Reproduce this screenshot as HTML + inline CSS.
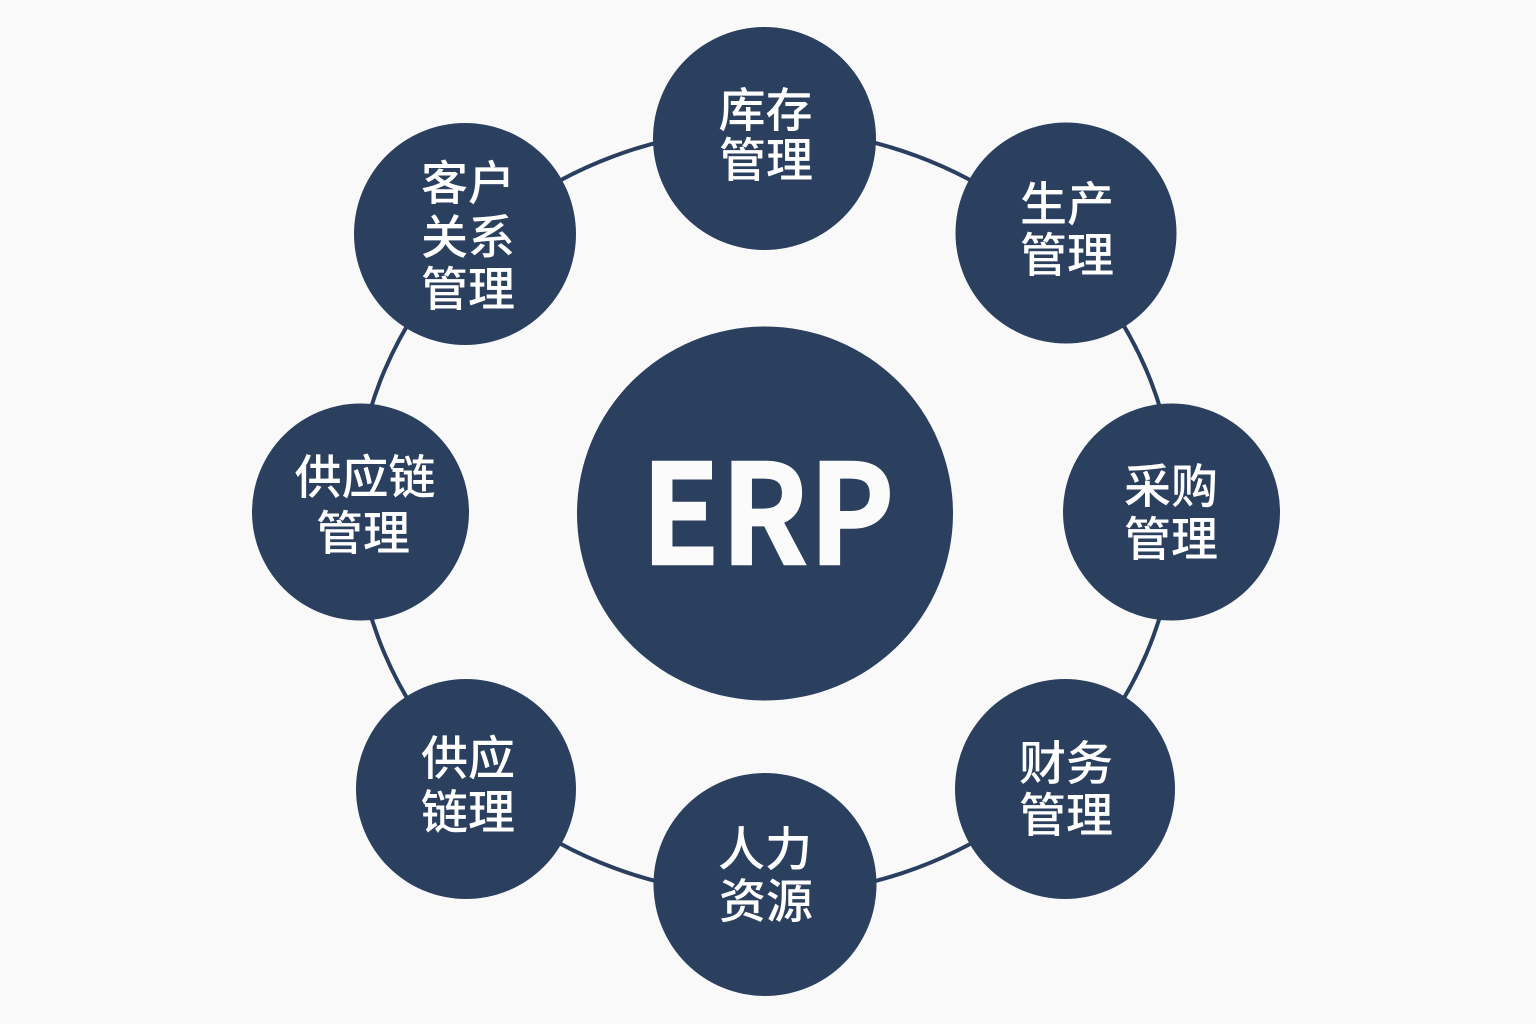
<!DOCTYPE html>
<html><head><meta charset="utf-8"><style>
html,body{margin:0;padding:0;background:#f9f9f9}
svg{display:block}
text{font-family:"Liberation Sans","Noto Sans CJK SC",sans-serif;fill:#fff;text-anchor:middle}
.t{font-size:47px;font-weight:500}
.e{font-family:"Noto Sans CJK SC","Liberation Sans",sans-serif;fill:#fbfbfb;stroke:#fbfbfb;stroke-width:1.5px;font-size:139px;font-weight:700}
</style></head><body>
<svg width="1536" height="1024" viewBox="0 0 1536 1024">
<rect width="1536" height="1024" fill="#f9f9f9"/>
<ellipse cx="765.500" cy="512" rx="410" ry="383" fill="none" stroke="#2a3f5f" stroke-width="4"/>
<g fill="#2b3f5e">
<ellipse cx="765" cy="513.500" rx="188" ry="187"/>
<circle cx="764.500" cy="138.500" r="111.500"/>
<circle cx="1066" cy="233" r="110.500"/>
<circle cx="1171.500" cy="512" r="108.500"/>
<circle cx="1065" cy="789" r="110"/>
<circle cx="765" cy="884.500" r="111.500"/>
<circle cx="466" cy="789" r="110"/>
<circle cx="360.500" cy="512" r="108.500"/>
<circle cx="465" cy="234" r="111"/>
</g>
<text class="e" transform="translate(767.800 564.500) scale(.93 1)" x="0" y="0">ERP</text>
<text class="t" x="765.500" y="127">库存</text><text class="t" x="766" y="177">管理</text>
<text class="t" x="1067" y="221">生产</text><text class="t" x="1067" y="272">管理</text>
<text class="t" x="1171" y="503">采购</text><text class="t" x="1171" y="556">管理</text>
<text class="t" x="1066" y="780">财务</text><text class="t" x="1066" y="832">管理</text>
<text class="t" x="765" y="866">人力</text><text class="t" x="766" y="918">资源</text>
<text class="t" x="468" y="775">供应</text><text class="t" x="468" y="829">链理</text>
<text class="t" x="365" y="494">供应链</text><text class="t" x="363" y="550">管理</text>
<text class="t" x="468" y="200">客户</text><text class="t" x="468" y="254">关系</text><text class="t" x="468" y="306">管理</text>
</svg></body></html>
